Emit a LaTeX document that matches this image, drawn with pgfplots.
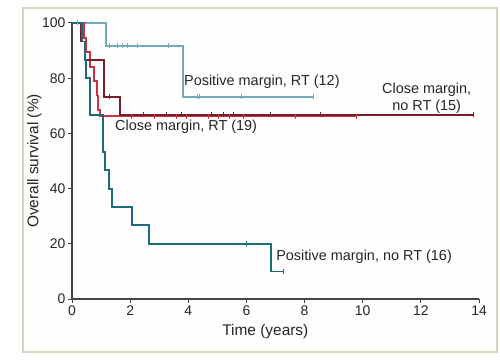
\documentclass[border=0pt]{standalone}
\usepackage{fontspec}
\setmainfont{Liberation Sans}
\usepackage{pgfplots}
\pgfplotsset{compat=1.18}
\definecolor{ltblue}{HTML}{72AABB}
\definecolor{tealc}{HTML}{1D6B7B}
\definecolor{redc}{HTML}{CC3340}
\definecolor{dredc}{HTML}{7A1C28}
\definecolor{framec}{HTML}{D8D3BE}
\definecolor{axgray}{HTML}{444444}
\begin{document}
\begin{tikzpicture}[x=1bp,y=1bp]
\useasboundingbox (0,0) rectangle (500,362);
\fill[white] (0,0) rectangle (500,362);
\draw[framec, line width=1.6bp, fill=white!98!framec] (23,10) rectangle (497,354);
\begin{axis}[
  at={(72bp,63bp)}, anchor=south west, scale only axis,
  width=407bp, height=276bp,
  xmin=0, xmax=14, ymin=0, ymax=100,
  axis x line*=bottom, axis y line*=left,
  axis line style={-, axgray, line width=1.4bp},
  xtick={0,2,...,14}, ytick={0,20,...,100},
  tick align=outside, major tick length=4bp,
  tick style={axgray, line width=1bp},
  /pgf/number format/assume math mode=true,
  ticklabel style={font=\fontsize{14}{14}\selectfont, text=black!85},
  xticklabel style={yshift=1bp},
  yticklabel style={xshift=1bp},
  xlabel={Time (years)}, ylabel={Overall survival (\%)},
  label style={font=\fontsize{15.5}{16}\selectfont, text=black!85},
  xlabel style={at={(axis description cs:0.475,0)}, anchor=north, yshift=-22bp},
  ylabel style={at={(axis description cs:0,0.5)}, anchor=south, xshift=0bp, yshift=27bp},
  clip=false,
]
% Positive margin, RT (12)
\addplot[const plot, ltblue, line width=1.8bp] coordinates {
 (0,100) (1.16,91.7) (3.81,73.3) (8.32,73.3)};
\addplot[only marks, mark=|, mark size=2.5bp, ltblue, mark options={line width=0.9bp}] coordinates {
 (0.2,100) (1.28,91.7) (1.56,91.7) (1.74,91.7) (1.9,91.7) (2.25,91.7) (3.31,91.7)
 (4.3,73.3) (4.4,73.3) (5.84,73.3) (8.32,73.3)};
% Close margin, RT (19)
\addplot[const plot, redc, line width=1.8bp] coordinates {
 (0,100) (0.41,94.7) (0.49,89.5) (0.62,84.2) (0.76,78.9) (0.86,73.7) (0.9,68.4) (0.95,66.2) (9.79,66.2)};
\addplot[only marks, mark=|, mark size=2.5bp, redc, mark options={line width=0.9bp}] coordinates {
 (2.05,66.2) (2.85,66.2) (3.6,66.2) (3.95,66.2) (4.69,66.2) (5.03,66.2) (5.43,66.2) (5.89,66.2) (7.67,66.2) (9.79,66.2)};
% Close margin, no RT (15)
\addplot[const plot, dredc, line width=1.8bp] coordinates {
 (0,100) (0.3,93.3) (0.45,86.7) (1.11,73.3) (1.65,66.7) (13.8,66.7)};
\addplot[only marks, mark=|, mark size=2.5bp, dredc, mark options={line width=0.9bp}] coordinates {
 (1.3,73.3) (2.45,66.7) (3.25,66.7) (3.77,66.7) (4.8,66.7) (5.2,66.7) (5.54,66.7) (6.81,66.7) (8.55,66.7) (13.8,66.7)};
% Positive margin, no RT (16)
\addplot[const plot, tealc, line width=1.8bp] coordinates {
 (0,100) (0.34,93.3) (0.44,86.7) (0.47,80) (0.62,66.7) (1.06,53.3) (1.14,46.7) (1.28,40) (1.37,33.3) (2.05,26.7) (2.66,20) (6.84,10) (7.27,10)};
\addplot[only marks, mark=|, mark size=2.5bp, tealc, mark options={line width=0.9bp}] coordinates {
 (6.0,20) (7.27,10)};
\begin{scope}[every node/.style={inner sep=0pt, font=\fontsize{14.5}{17}\selectfont, text=black!85}]
\node[anchor=west] at (axis cs:3.85,78.6) {Positive margin, RT (12)};
\node[align=center] at (axis cs:12.2,72.8) {Close margin,\\no RT (15)};
\node[anchor=west] at (axis cs:1.48,62.3) {Close margin, RT (19)};
\node[anchor=west] at (axis cs:7.02,15.2) {Positive margin, no RT (16)};
\end{scope}
\end{axis}
\end{tikzpicture}
\end{document}
